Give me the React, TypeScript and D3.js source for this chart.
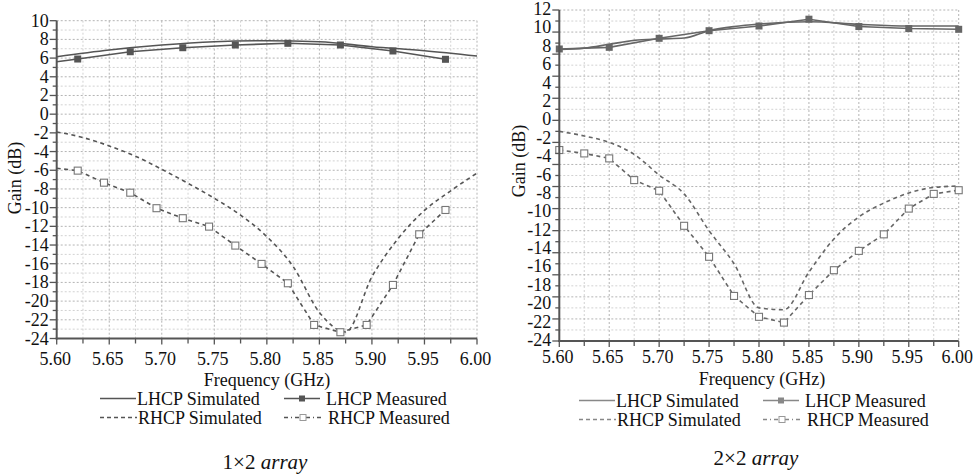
import React from 'react';
import * as d3 from 'd3';

// ---------- shared axis content ----------
const xTickValues = [5.6, 5.65, 5.7, 5.75, 5.8, 5.85, 5.9, 5.95, 6.0];
const xTickLabels = ['5.60', '5.65', '5.70', '5.75', '5.80', '5.85', '5.90', '5.95', '6.00'];
const xMinorStep = 0.025;

const yLabels1 = [10, 8, 6, 4, 2, 0, -2, -4, -6, -8, -10, -12, -14, -16, -18, -20, -22, -24];
const yLabels2 = [12, 10, 8, 6, 4, 2, 0, -2, -4, -6, -8, -10, -12, -14, -16, -18, -20, -22, -24];

const legendNames = ['LHCP Simulated', 'LHCP Measured', 'RHCP Simulated', 'RHCP Measured'];

// ---------- 1×2 array ----------
const p1LhcpSimFreq = [5.6, 5.65, 5.7, 5.75, 5.8, 5.85, 5.9, 5.95, 6.0];
const p1LhcpSimGain = [6.15, 6.87, 7.4, 7.75, 7.86, 7.75, 7.22, 6.79, 6.22];
const p1LhcpMeasFreq = [5.6, 5.62, 5.67, 5.72, 5.77, 5.82, 5.87, 5.92, 5.97];
const p1LhcpMeasGain = [5.61, 5.9, 6.68, 7.11, 7.4, 7.58, 7.4, 6.76, 5.87];
const p1RhcpSimFreq = [5.6, 5.625, 5.65, 5.675, 5.7, 5.725, 5.75, 5.775, 5.8, 5.825, 5.85, 5.875, 5.9, 5.925, 5.95, 5.975, 6.0];
const p1RhcpSimGain = [-1.9, -2.5, -3.4, -4.5, -5.9, -7.4, -9.0, -10.8, -13.1, -16.3, -21.2, -23.3, -17.4, -13.3, -10.3, -8.2, -6.3];
const p1RhcpMeasFreq = [5.6, 5.62, 5.645, 5.67, 5.695, 5.72, 5.745, 5.77, 5.795, 5.82, 5.845, 5.87, 5.895, 5.92, 5.945, 5.97];
const p1RhcpMeasGain = [-5.79, -6.04, -7.33, -8.4, -10.06, -11.13, -12.03, -14.06, -16.02, -18.09, -22.55, -23.33, -22.55, -18.27, -12.85, -10.25];

// ---------- 2×2 array ----------
const p2LhcpSimFreq = [5.6, 5.625, 5.65, 5.675, 5.7, 5.725, 5.75, 5.775, 5.8, 5.85, 5.9, 5.95, 6.0];
const p2LhcpSimGain = [7.7, 7.85, 8.27, 8.7, 8.85, 8.95, 9.75, 10.2, 10.48, 10.73, 10.44, 10.26, 10.26];
const p2LhcpMeasFreq = [5.6, 5.65, 5.7, 5.75, 5.8, 5.85, 5.9, 5.95, 6.0];
const p2LhcpMeasGain = [7.76, 7.94, 8.92, 9.75, 10.26, 11.0, 10.2, 9.98, 9.9];
const p2RhcpSimFreq = [5.6, 5.625, 5.65, 5.675, 5.7, 5.725, 5.75, 5.775, 5.8, 5.825, 5.85, 5.875, 5.9, 5.925, 5.95, 5.975, 6.0];
const p2RhcpSimGain = [-1.2, -1.7, -2.4, -3.7, -5.95, -8.0, -12.0, -15.6, -20.4, -20.6, -16.5, -12.9, -10.5, -9.0, -7.9, -7.3, -7.15];
const p2RhcpMeasFreq = [5.6, 5.625, 5.65, 5.675, 5.7, 5.725, 5.75, 5.775, 5.8, 5.825, 5.85, 5.875, 5.9, 5.925, 5.95, 5.975, 6.0];
const p2RhcpMeasGain = [-3.23, -3.6, -4.14, -6.5, -7.66, -11.47, -14.84, -19.1, -21.37, -22.0, -19.0, -16.3, -14.2, -12.4, -9.6, -8.0, -7.6];

const FONT = 'Liberation Serif, Tinos, Times New Roman, DejaVu Serif, serif';
const TEXT = '#111';

type Cfg = {
  x0: number; x1: number; yTop: number; yBottom: number; yMin: number; yMax: number;
  gridStep: number; yLabels: number[]; yLabelShift: number; tickBaseline: number;
  freqLabel: [number, number]; gainLabel: [number, number];
  legendX: number; legendY1: number; legendY2: number;
  caption: [number, number]; captionPrefix: string;
  color: string; legendColor: string; markFrom: number;
  lsim: [number[], number[]]; lmeas: [number[], number[]];
  rsim: [number[], number[]]; rmeas: [number[], number[]];
};

const panels: Cfg[] = [
  {
    x0: 56.7, x1: 477, yTop: 20.7, yBottom: 338.5, yMin: -24, yMax: 10, gridStep: 1,
    yLabels: yLabels1, yLabelShift: 6, tickBaseline: 364.5, freqLabel: [267, 385.5], gainLabel: [21, 178],
    legendX: 100, legendY1: 398.5, legendY2: 417.5, caption: [265, 469], captionPrefix: '1×2',
    color: '#555', legendColor: '#555', markFrom: 1,
    lsim: [p1LhcpSimFreq, p1LhcpSimGain], lmeas: [p1LhcpMeasFreq, p1LhcpMeasGain],
    rsim: [p1RhcpSimFreq, p1RhcpSimGain], rmeas: [p1RhcpMeasFreq, p1RhcpMeasGain],
  },
  {
    x0: 559.3, x1: 958.7, yTop: 10, yBottom: 341, yMin: -24, yMax: 12, gridStep: 1.2,
    yLabels: yLabels2, yLabelShift: 5, tickBaseline: 363, freqLabel: [762, 384.5], gainLabel: [525, 161],
    legendX: 579, legendY1: 400.5, legendY2: 419.5, caption: [756, 465], captionPrefix: '2×2',
    color: '#666', legendColor: '#888', markFrom: 0,
    lsim: [p2LhcpSimFreq, p2LhcpSimGain], lmeas: [p2LhcpMeasFreq, p2LhcpMeasGain],
    rsim: [p2RhcpSimFreq, p2RhcpSimGain], rmeas: [p2RhcpMeasFreq, p2RhcpMeasGain],
  },
];

function Panel({ c }: { c: Cfg }) {
  const x = d3.scaleLinear().domain([5.6, 6.0]).range([c.x0, c.x1]);
  const y = d3.scaleLinear().domain([c.yMin, c.yMax]).range([c.yBottom, c.yTop]);

  const nX = Math.round((6.0 - 5.6) / xMinorStep);
  const xGrid = d3.range(1, nX + 1).map((i) => ({ v: 5.6 + i * xMinorStep, major: i % 2 === 0 }));
  const nY = Math.round((c.yMax - c.yMin) / c.gridStep);
  const yGrid = d3.range(0, nY + 1).map((i) => ({ v: c.yMin + i * c.gridStep, major: i % 2 === 0 }));

  const pts = (s: [number[], number[]]) => s[0].map((f, i) => [f, s[1][i]] as [number, number]);
  const smooth = d3.line<[number, number]>().x((d) => x(d[0])).y((d) => y(d[1])).curve(d3.curveMonotoneX);
  const straight = d3.line<[number, number]>().x((d) => x(d[0])).y((d) => y(d[1]));

  const lmeasPts = pts(c.lmeas);
  const rmeasPts = pts(c.rmeas);

  const ax = '#555';
  const lx = c.legendX;
  const txt = { fontFamily: FONT, fontSize: 18, fill: TEXT } as const;
  return (
    <g>
      {/* grid */}
      {xGrid.map((g, i) => (
        <line key={'gx' + i} x1={x(g.v)} x2={x(g.v)} y1={c.yTop} y2={c.yBottom}
          stroke={g.major ? '#b4b4b4' : '#d2d2d2'} strokeWidth={1} strokeDasharray="2,2" />
      ))}
      {yGrid.map((g, i) => (
        <line key={'gy' + i} x1={c.x0} x2={c.x1} y1={y(g.v)} y2={y(g.v)}
          stroke={g.major ? '#b4b4b4' : '#d2d2d2'} strokeWidth={1} strokeDasharray="2,2" />
      ))}

      {/* series */}
      <path d={smooth(pts(c.lsim)) || ''} fill="none" stroke={c.color} strokeWidth={1.6} />
      <path d={straight(lmeasPts) || ''} fill="none" stroke={c.color} strokeWidth={1.6} />
      <path d={smooth(pts(c.rsim)) || ''} fill="none" stroke={c.color} strokeWidth={1.6} strokeDasharray="4,3.5" />
      <path d={straight(rmeasPts) || ''} fill="none" stroke={c.color} strokeWidth={1.6} strokeDasharray="4,3.5" />
      {lmeasPts.slice(c.markFrom).map((d, i) => (
        <rect key={'lm' + i} x={x(d[0]) - 3.5} y={y(d[1]) - 3.5} width={7} height={7} fill={c.color} />
      ))}
      {rmeasPts.slice(c.markFrom).map((d, i) => (
        <rect key={'rm' + i} x={x(d[0]) - 3.5} y={y(d[1]) - 3.5} width={7} height={7} fill="#fff" stroke="#777" strokeWidth={1.1} />
      ))}

      {/* axes */}
      <line x1={c.x0} x2={c.x0} y1={c.yTop} y2={c.yBottom + 1} stroke={ax} strokeWidth={2} />
      <line x1={c.x0 - 1} x2={c.x1} y1={c.yBottom} y2={c.yBottom} stroke={ax} strokeWidth={2} />
      {yGrid.map((g, i) => (
        <line key={'ty' + i} x1={c.x0 - (g.major ? 7 : 4)} x2={c.x0} y1={y(g.v)} y2={y(g.v)} stroke={ax} strokeWidth={1.3} />
      ))}
      {[{ v: 5.6, major: true }, ...xGrid].map((g, i) => (
        <line key={'tx' + i} x1={x(g.v)} x2={x(g.v)} y1={c.yBottom} y2={c.yBottom + (g.major ? 6 : 5)} stroke={ax} strokeWidth={1.3} />
      ))}
      {c.yLabels.map((v) => (
        <text key={'yl' + v} x={c.x0 - 8} y={y(v) + c.yLabelShift} textAnchor="end" style={txt}>{String(v)}</text>
      ))}
      {xTickValues.map((v, i) => (
        <text key={'xl' + i} x={x(v) - 1.5} y={c.tickBaseline} textAnchor="middle" style={txt}>{xTickLabels[i]}</text>
      ))}
      <text x={c.freqLabel[0]} y={c.freqLabel[1]} textAnchor="middle" style={txt}>Frequency (GHz)</text>
      <text transform={`translate(${c.gainLabel[0]},${c.gainLabel[1]}) rotate(-90)`} textAnchor="middle" style={txt}>Gain (dB)</text>

      {/* legend */}
      <line x1={lx} x2={lx + 36} y1={c.legendY1} y2={c.legendY1} stroke={c.legendColor} strokeWidth={1.4} />
      <text x={lx + 37} y={c.legendY1 + 6} style={txt}>{legendNames[0]}</text>
      <line x1={lx + 184} x2={lx + 220} y1={c.legendY1} y2={c.legendY1} stroke={c.legendColor} strokeWidth={1.4} />
      <rect x={lx + 199} y={c.legendY1 - 3} width={6} height={6} fill={c.legendColor} />
      <text x={lx + 226} y={c.legendY1 + 6} style={txt}>{legendNames[1]}</text>
      <line x1={lx} x2={lx + 37} y1={c.legendY2} y2={c.legendY2} stroke={c.legendColor} strokeWidth={1.4} strokeDasharray="4,3" />
      <text x={lx + 38} y={c.legendY2 + 6} style={txt}>{legendNames[2]}</text>
      <line x1={lx + 184} x2={lx + 222} y1={c.legendY2} y2={c.legendY2} stroke={c.legendColor} strokeWidth={1.4} strokeDasharray="4,3,1,3" />
      <rect x={lx + 200} y={c.legendY2 - 3} width={6} height={6} fill="#fff" stroke="#999" strokeWidth={1} />
      <text x={lx + 228} y={c.legendY2 + 6} style={txt}>{legendNames[3]}</text>

      {/* caption */}
      <text x={c.caption[0]} y={c.caption[1]} textAnchor="middle" style={{ ...txt, fontSize: 21 }}>
        {c.captionPrefix + ' '}<tspan style={{ fontStyle: 'italic' }}>array</tspan>
      </text>
    </g>
  );
}

export default function App() {
  return (
    <svg width={978} height={475} style={{ position: 'absolute', left: 0, top: 0, background: '#fff' }}>
      <rect width={978} height={475} fill="#fff" />
      {panels.map((c, i) => <Panel key={i} c={c} />)}
    </svg>
  );
}
